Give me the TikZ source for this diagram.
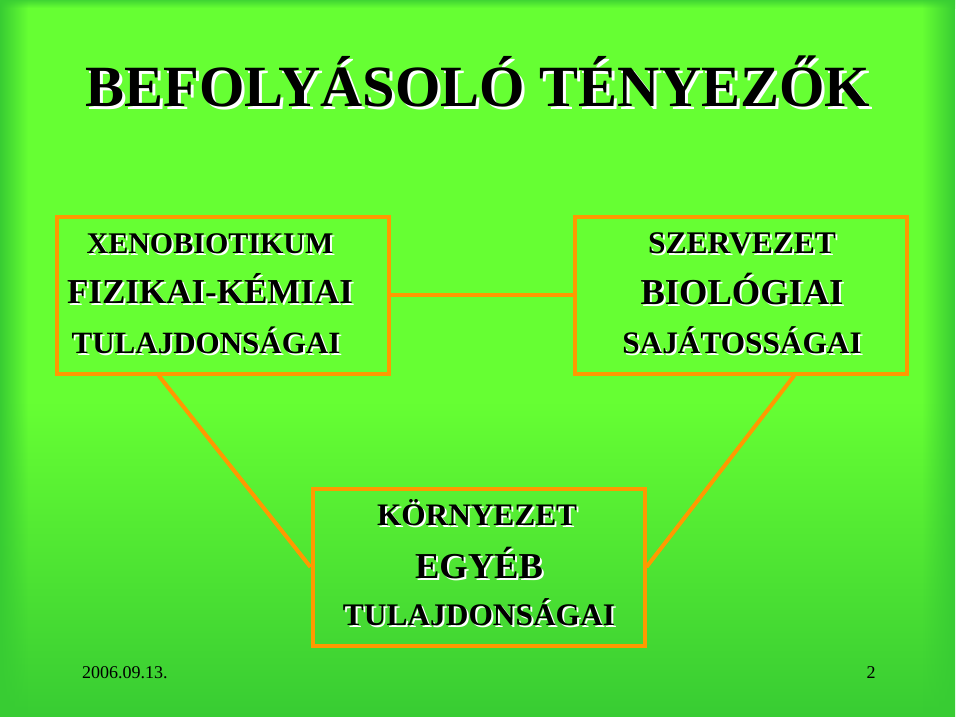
\documentclass[tikz,border=0pt]{standalone}
\usepackage{fontspec}
\setmainfont{Liberation Serif}
\usetikzlibrary{fadings,calc}
\definecolor{bright}{RGB}{102,255,51}
\definecolor{dark}{RGB}{56,204,51}
\definecolor{topdark}{RGB}{64,214,51}
\definecolor{orng}{RGB}{255,153,0}
\tikzfading[name=fadeR, left color=transparent!0, right color=transparent!100]
\tikzfading[name=fadeL, left color=transparent!100, right color=transparent!0]
\tikzset{
  txt/.style={anchor=base, inner sep=0pt, text=black},
  shd/.style={anchor=base, inner sep=0pt, text=white},
  box/.style={draw=orng, line width=4pt, minimum width=332pt, minimum height=157pt, inner sep=0pt},
  conn/.style={draw=orng, line width=4pt},
}
% name, x, y, size, offset, text
\newcommand\shline[6]{%
  \node[shd, font=\fontsize{#4}{#4}\selectfont\bfseries] at (#2+#5,#3+#5) {#6};
  \node[txt, font=\fontsize{#4}{#4}\selectfont\bfseries] (#1) at (#2,#3) {#6};}
\begin{document}
\begin{tikzpicture}[x=1pt,y=-1pt]
\useasboundingbox (0,0) rectangle (960,720);
\fill[white] (0,0) rectangle (960,720);
% background
\fill[top color=topdark, bottom color=bright] (0,0) rectangle (955,8);
\fill[bright] (0,8) rectangle (955,400);
\fill[top color=bright, bottom color=dark] (0,400) rectangle (955,716);
\fill[dark, path fading=fadeR] (0,0) rectangle (28,716);
\fill[dark, path fading=fadeL] (922,0) rectangle (955,716);
% title
\shline{title}{478}{106}{58.4}{3}{BEFOLYÁSOLÓ TÉNYEZŐK}
% boxes
\node[box] (b1) at (222.5,295) {};
\node[box] (b2) at (740.5,295) {};
\node[box] (b3) at (478.5,567) {};
% connectors
\draw[conn] (b1.east) -- (b2.west);
\draw[conn] ($(b1.south west)!0.31!(b1.south east)$) -- (b3.west);
\draw[conn] ($(b2.south west)!0.66!(b2.south east)$) -- (b3.east);
% box texts
\shline{t11}{210}{253}{30}{2}{XENOBIOTIKUM}
\shline{t12}{210}{303}{35}{2}{FIZIKAI-KÉMIAI}
\shline{t13}{206}{353}{31}{2}{TULAJDONSÁGAI}
\shline{t21}{742}{253}{31.5}{2}{SZERVEZET}
\shline{t22}{742}{304}{36.5}{2}{BIOLÓGIAI}
\shline{t23}{742}{353}{31.3}{2}{SAJÁTOSSÁGAI}
\shline{t31}{477}{525}{31.3}{2}{KÖRNYEZET}
\shline{t32}{479}{578}{36.5}{2}{EGYÉB}
\shline{t33}{479}{625}{31.4}{2}{TULAJDONSÁGAI}
% footer
\node[txt, anchor=base west, font=\fontsize{18}{18}\selectfont] (date) at (82,678) {2006.09.13.};
\node[txt, font=\fontsize{18}{18}\selectfont] (page) at (871,678) {2};
\end{tikzpicture}
\end{document}
